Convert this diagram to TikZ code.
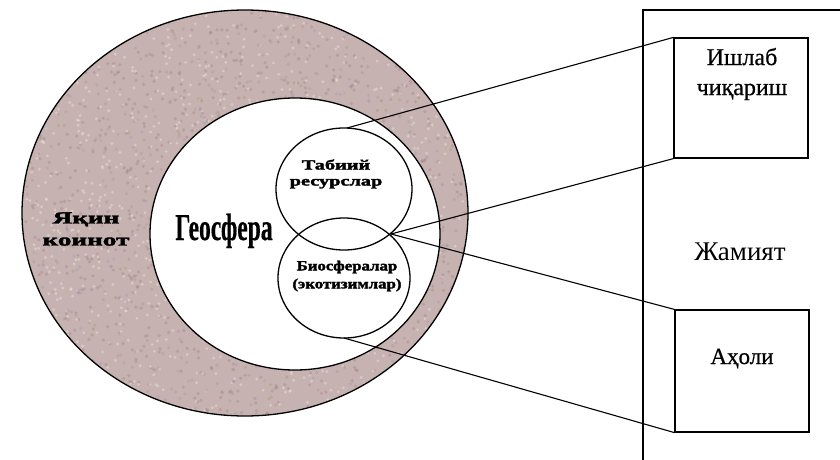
\documentclass[tikz,border=0pt]{standalone}
\usepackage{fontspec}
\setmainfont{Liberation Serif}
\newfontfamily\heavyfont[FakeBold=2]{Liberation Serif}
\newfontfamily\semifont[FakeBold=0.6]{Liberation Serif}
\usetikzlibrary{shapes.geometric}
\definecolor{ring}{RGB}{198,178,176}
\definecolor{ringdark}{RGB}{150,118,122}
\definecolor{ringlight}{RGB}{232,220,214}
\definecolor{ringblue}{RGB}{160,152,180}
\definecolor{ringbrown}{RGB}{176,146,118}
\tikzset{
  outline/.style={draw=black, line width=1.3pt},
  conn/.style={draw=black, line width=1.1pt},
  boxnode/.style={draw=black, line width=1.2pt, minimum width=134pt, inner sep=0pt},
  smalltext/.style={align=center, inner sep=0pt, font=\heavyfont\bfseries\fontsize{14}{16}\selectfont},
}
\begin{document}
\begin{tikzpicture}[x=1pt,y=-1pt]
\useasboundingbox (0,0) rectangle (840,460);
\fill[white] (0,0) rectangle (840,460);
\begin{scope}
\clip (0,0) rectangle (840,460);
% ring between outer and inner ellipse
\fill[ring, even odd rule] (245,213) ellipse [x radius=223, y radius=203]
   (295,234) ellipse [x radius=145, y radius=136];
\begin{scope}[even odd rule]
  \clip (245,213) ellipse [x radius=223, y radius=203]
     (295,234) ellipse [x radius=145, y radius=136];
  \pgfmathsetseed{11}
  \foreach \i in {1,...,1100} {
    \fill[ringdark, opacity=.3] ({22+446*rnd},{10+406*rnd}) circle (1.8);
    \fill[ringlight, opacity=.55] ({22+446*rnd},{10+406*rnd}) circle (1.6);
  }
  \foreach \i in {1,...,400} {
    \fill[ringblue, opacity=.35] ({22+446*rnd},{10+406*rnd}) circle (1.8);
    \fill[ringbrown, opacity=.35] ({22+446*rnd},{10+406*rnd}) circle (1.8);
  }
\end{scope}
\draw[outline] (245,213) ellipse [x radius=223, y radius=203];
\draw[outline] (295,234) ellipse [x radius=145, y radius=136];
% two small circles
\draw[outline] (344,189) ellipse [x radius=68, y radius=61];
\draw[outline] (344,278) ellipse [x radius=66, y radius=60];
% society frame
\draw[line width=1.2pt] (643,470) -- (643,10) -- (850,10);
\end{scope}

% texts
\node[align=center, inner sep=0pt, font=\heavyfont\bfseries\fontsize{17}{22}\selectfont] (yaqin) at (86,229)
  {\scalebox{1.6}[1]{Яқин}\\\scalebox{1.6}[1]{коинот}};
\node[anchor=base, inner sep=0pt, font=\semifont\bfseries\fontsize{38}{40}\selectfont] (geo) at (224,240)
  {\scalebox{0.62}[1]{Геосфера}};
\node[smalltext] (tab) at (336,174) {\scalebox{1.45}[1]{Табиий}\\\scalebox{1.45}[1]{ресурслар}};
\node[smalltext, font=\heavyfont\bfseries\fontsize{14}{18}\selectfont] (bio) at (347,276)
  {\scalebox{1.2}[1]{Биосфералар}\\\scalebox{1.2}[1]{(экотизимлар)}};

% boxes
\node[boxnode, minimum height=120pt] (b1) at (741,98) {};
\node[boxnode, minimum height=122pt] (b2) at (742,371) {};
\node[align=center, inner sep=0pt, font=\semifont\fontsize{24}{30}\selectfont] (t1) at (742,74) {Ишлаб\\чиқариш};
\node[anchor=base, inner sep=0pt, font=\semifont\fontsize{23}{25}\selectfont] (t2) at (742,364) {Аҳоли};
\node[anchor=base, inner sep=0pt, font=\fontsize{27}{29}\selectfont] (soc) at (740,260) {Жамият};

% connector points on the circles
\coordinate (upTop) at (347,128);
\coordinate (X) at (391,234);
\coordinate (lowBot) at (344,338);

\draw[conn] (upTop) -- (b1.north west);
\draw[conn] (X) -- (b1.south west);
\draw[conn] (X) -- (b2.north west);
\draw[conn] (lowBot) -- (b2.south west);
\end{tikzpicture}
\end{document}
